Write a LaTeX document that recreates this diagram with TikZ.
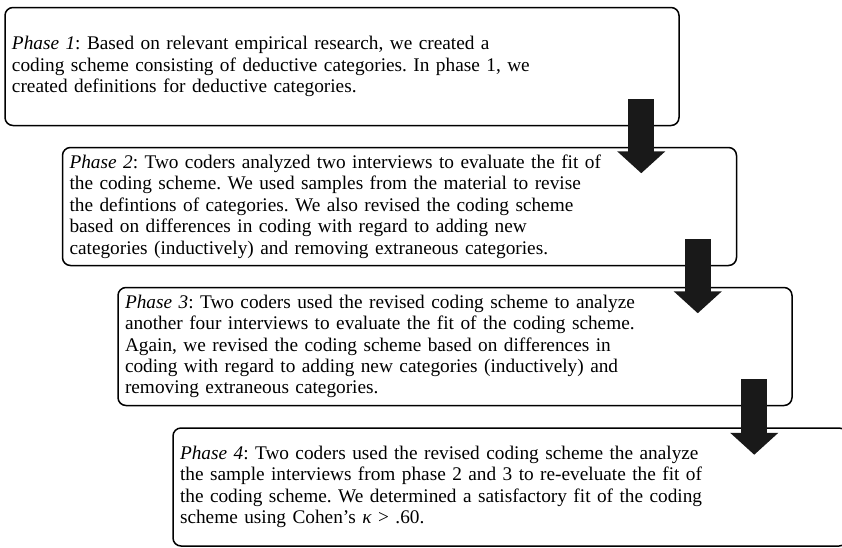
\documentclass[tikz,border=0pt]{standalone}
\usepackage{fontspec}
\setmainfont{Liberation Serif}
\usepackage{tikz}
\usetikzlibrary{arrows.meta, positioning, calc}
\frenchspacing

\begin{document}
\begin{tikzpicture}[
        x=1pt, y=-1pt,
        phase/.style={rectangle, rounded corners=8pt, draw=black, line width=1.5pt, fill=white, minimum width=674pt, minimum height=118pt, text width=660pt, inner xsep=7pt, align=left, font=\fontsize{19.3}{21.4}\selectfont},
        flow/.style={draw=black!90, line width=26pt, -{Triangle[width=47pt, length=22pt, fill=black!90]}}
    ]
        \useasboundingbox (0,0) rectangle (842,547);
        \clip (0,0) rectangle (842,547);

        % Phase 1
        \node[phase] (p1) at (342, 66.5) {\textit{Phase 1}: Based on relevant empirical research, we created a\\coding scheme consisting of deductive categories. In phase 1, we\\created definitions for deductive categories.};

        % Phase 2
        \node[phase] (p2) at (399.5, 206.5) {\textit{Phase 2}: Two coders analyzed two interviews to evaluate the fit of\\the coding scheme. We used samples from the material to revise\\the defintions of categories. We also revised the coding scheme\\based on differences in coding with regard to adding new\\categories (inductively) and removing extraneous categories.};

        % Phase 3
        \node[phase] (p3) at (455, 346.5) {\textit{Phase 3}: Two coders used the revised coding scheme to analyze\\another four interviews to evaluate the fit of the coding scheme.\\Again, we revised the coding scheme based on differences in\\coding with regard to adding new categories (inductively) and\\removing extraneous categories.};

        % Phase 4
        \node[phase] (p4) at (510, 487) {\textit{Phase 4}: Two coders used the revised coding scheme the analyze\\the sample interviews from phase 2 and 3 to re-eveluate the fit of\\the coding scheme. We determined a satisfactory fit of the coding\\scheme using Cohen's \textit{κ} > .60.};

        % Arrows
        \coordinate (a1) at ($(p1.south east)+(-38.5,-27)$);
        \coordinate (b1) at ($(a1 |- p2.north)+(0,26.5)$);
        \coordinate (a2) at ($(p2.south east)+(-39.5,-27)$);
        \coordinate (b2) at ($(a2 |- p3.north)+(0,26.5)$);
        \coordinate (a3) at ($(p3.south east)+(-38.5,-27)$);
        \coordinate (b3) at ($(a3 |- p4.north)+(0,27.5)$);
        \draw[flow] (a1) -- (b1);
        \draw[flow] (a2) -- (b2);
        \draw[flow] (a3) -- (b3);
    \end{tikzpicture}
\end{document}
